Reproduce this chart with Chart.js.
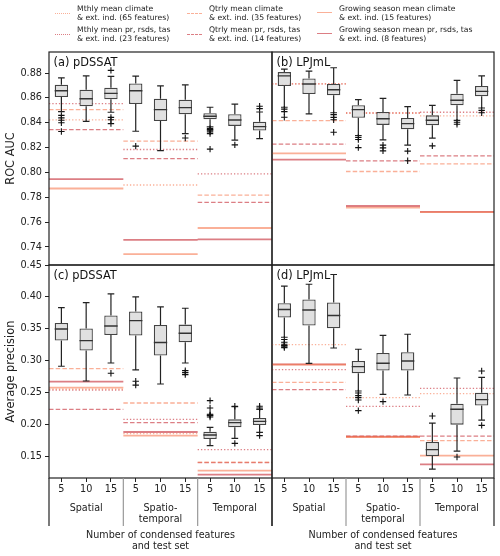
<!DOCTYPE html>
<html>
<head>
<meta charset="utf-8">
<script src="https://cdn.jsdelivr.net/npm/chart.js@4.4.1/dist/chart.umd.min.js"></script>
<style>
  body { margin: 0; background: #fff; }
  #wrap { position: relative; width: 500px; height: 556px; font-family: 'DejaVu Sans', sans-serif; overflow: hidden; }
  #wrap canvas { position: absolute; left: 0; top: 0; }
  .leg { position: absolute; font-size: 7.7px; line-height: 9px; color: #222; white-space: nowrap; }
  .smp { position: absolute; width: 15px; height: 0; }
</style>
</head>
<body>
<div id="wrap">
  <canvas id="cA" width="500" height="556"></canvas>
  <canvas id="cB" width="500" height="556"></canvas>
  <canvas id="cC" width="500" height="556"></canvas>
  <canvas id="cD" width="500" height="556"></canvas>
  <div id="legend"></div>
</div>
<script>
// x categories
const nFeatures = ['5', '10', '15'];
const testSets = ['Spatial', ['Spatio-', 'temporal'], 'Temporal'];
const refNames = [
  ['Mthly mean climate', '& ext. ind. (65 features)'],
  ['Mthly mean pr, rsds, tas', '& ext. ind. (23 features)'],
  ['Qtrly mean climate', '& ext. ind. (35 features)'],
  ['Qtrly mean pr, rsds, tas', '& ext. ind. (14 features)'],
  ['Growing season mean climate', '& ext. ind. (15 features)'],
  ['Growing season mean pr, rsds, tas', '& ext. ind. (8 features)']
];
const aucTicks = [0.74, 0.76, 0.78, 0.80, 0.82, 0.84, 0.86, 0.88];
const apTicks = [0.15, 0.20, 0.25, 0.30, 0.35, 0.40, 0.45];

// box stats: [lower whisker, Q1, median, Q3, upper whisker]
// reference lines per test set, in refNames order

// (a) pDSSAT, ROC AUC
const aucPdssatBoxes = [
  [0.849, 0.8607, 0.8658, 0.8706, 0.8762],
  [0.8412, 0.8533, 0.8594, 0.8666, 0.8778],
  [0.8485, 0.8589, 0.8637, 0.8682, 0.8773],
  [0.8332, 0.8551, 0.8658, 0.8717, 0.8776],
  [0.8176, 0.8415, 0.8506, 0.8594, 0.8698],
  [0.8313, 0.8469, 0.8522, 0.8586, 0.8706],
  [0.8367, 0.8428, 0.8453, 0.8477, 0.8525],
  [0.826, 0.8375, 0.8423, 0.8469, 0.8551],
  [0.8273, 0.8337, 0.8369, 0.8409, 0.8487]
];
const aucPdssatFliers = [
  [0.846, 0.844, 0.842, 0.840, 0.833], [], [0.8822, 0.8444, 0.8425, 0.8393],
  [0.8212], [], [0.8278],
  [0.8353, 0.8345, 0.834, 0.8327, 0.8313, 0.8188], [0.8222], [0.8533, 0.8514]
];
const aucPdssatRefs = [
  [0.8423, 0.8554, 0.8506, 0.8345, 0.7871, 0.7947],
  [0.7899, 0.8185, 0.8252, 0.8112, 0.7342, 0.7457],
  [0.7000, 0.7989, 0.7818, 0.7759, 0.7553, 0.7462]
];

// (b) LPJmL, ROC AUC
const aucLpjmlBoxes = [
  [0.8525, 0.8696, 0.8778, 0.8808, 0.8832],
  [0.8471, 0.8631, 0.8712, 0.8757, 0.8816],
  [0.8481, 0.8621, 0.8666, 0.8712, 0.8843],
  [0.8297, 0.8441, 0.8506, 0.8541, 0.8586],
  [0.8262, 0.8383, 0.8433, 0.8487, 0.8597],
  [0.822, 0.8348, 0.8393, 0.8439, 0.853],
  [0.8276, 0.838, 0.842, 0.846, 0.8541],
  [0.842, 0.8541, 0.8581, 0.8634, 0.8741],
  [0.8519, 0.8613, 0.8653, 0.8696, 0.8778]
];
const aucLpjmlFliers = [
  [0.851, 0.849, 0.8445], [], [0.8466, 0.8444, 0.8425, 0.8324],
  [0.8281, 0.8265, 0.82], [0.822, 0.8198, 0.8174], [0.8172, 0.8094],
  [0.8214], [0.8404, 0.8388], [0.85, 0.8481]
];
const aucLpjmlRefs = [
  [0.8714, 0.8714, 0.8417, 0.8228, 0.8153, 0.8104],
  [0.8479, 0.8479, 0.8008, 0.8094, 0.7717, 0.773],
  [0.8455, 0.8485, 0.807, 0.8134, 0.768, 0.7682]
];

// (c) pDSSAT, average precision
const apPdssatBoxes = [
  [0.2915, 0.3317, 0.3499, 0.3593, 0.3834],
  [0.2684, 0.316, 0.3317, 0.3505, 0.3912],
  [0.2966, 0.3405, 0.3546, 0.3709, 0.4047],
  [0.2857, 0.3395, 0.363, 0.3771, 0.40],
  [0.2637, 0.3082, 0.3286, 0.3561, 0.3843],
  [0.2966, 0.329, 0.3431, 0.3567, 0.3823],
  [0.1672, 0.1776, 0.1839, 0.1891, 0.1959],
  [0.1787, 0.1959, 0.2033, 0.2084, 0.2283],
  [0.1881, 0.1995, 0.2053, 0.2105, 0.224]
];
const apPdssatFliers = [
  [], [], [0.2805],
  [0.268, 0.262], [], [0.2847, 0.2816, 0.2784],
  [0.2377, 0.2261, 0.2163, 0.215, 0.2142, 0.212], [0.229, 0.1708], [0.2288, 0.2262, 0.1829]
];
const apPdssatRefs = [
  [0.2555, 0.2543, 0.2878, 0.2241, 0.2581, 0.2675],
  [0.186, 0.2084, 0.234, 0.2033, 0.1829, 0.1886],
  [0.10, 0.161, 0.1415, 0.1408, 0.128, 0.1218]
];

// (d) LPJmL, average precision
const apLpjmlBoxes = [
  [0.3369, 0.3677, 0.3803, 0.3901, 0.4168],
  [0.2961, 0.3552, 0.3796, 0.3959, 0.4199],
  [0.3201, 0.351, 0.3709, 0.3912, 0.4351],
  [0.2528, 0.2805, 0.291, 0.2998, 0.3181],
  [0.2476, 0.2847, 0.2961, 0.3123, 0.34],
  [0.2465, 0.2847, 0.2998, 0.3134, 0.3416],
  [0.1306, 0.1509, 0.161, 0.1729, 0.2026],
  [0.1588, 0.2001, 0.2241, 0.233, 0.2731],
  [0.2073, 0.2299, 0.2393, 0.2502, 0.2742]
];
const apLpjmlFliers = [
  [0.3333, 0.329, 0.3259, 0.324, 0.3228, 0.3207], [], [],
  [0.2496, 0.2455, 0.2424, 0.2387, 0.222], [0.2362], [],
  [0.2136], [0.1494], [0.2841, 0.199]
];
const apLpjmlRefs = [
  [0.3254, 0.2863, 0.2664, 0.255, 0.2941, 0.2945],
  [0.2424, 0.2288, 0.1815, 0.1823, 0.1807, 0.1815],
  [0.2487, 0.257, 0.175, 0.1823, 0.1516, 0.1379]
];

Chart.defaults.font.family = "'DejaVu Sans', sans-serif";
Chart.defaults.color = '#222';

// line look for the reference lines: climate = light, pr/rsds/tas = dark
const lightRed = 'rgba(246, 124, 84, 0.6)';
const darkRed = 'rgba(196, 40, 50, 0.6)';
function refStyle(k) {
  const kind = Math.floor(k / 2);
  return {
    color: k % 2 ? darkRed : lightRed,
    dash: kind === 0 ? [1.3, 2] : kind === 1 ? [4.5, 2.2] : [],
    css: kind === 0 ? 'dotted' : kind === 1 ? 'dashed' : 'solid',
    width: kind === 2 ? 1.8 : 1.3
  };
}

// frame, panel label, group labels and separators
const decor = {
  id: 'decor',
  afterDraw(chart, args, o) {
    const { ctx, chartArea: a } = chart;
    const xs = chart.scales.x;
    ctx.save();
    ctx.strokeStyle = '#222';
    ctx.lineWidth = 1.2;
    ctx.strokeRect(a.left, a.top, a.right - a.left, a.bottom - a.top);
    ctx.fillStyle = '#111';
    ctx.font = "11.4px 'DejaVu Sans'";
    ctx.textBaseline = 'middle';
    ctx.textAlign = 'left';
    ctx.fillText(o.label, a.left + 4.5, a.top + 11);
    if (o.bottom) {
      [-0.5, 2.5, 5.5, 8.5].forEach((v, k) => {
        const x = xs.getPixelForValue(v);
        ctx.strokeStyle = (k === 0 || k === 3) ? '#222' : '#999';
        ctx.beginPath();
        ctx.moveTo(x, a.bottom);
        ctx.lineTo(x, a.bottom + 48);
        ctx.stroke();
      });
      ctx.font = "9.6px 'DejaVu Sans'";
      ctx.textAlign = 'center';
      ctx.fillStyle = '#222';
      testSets.forEach((t, g) => {
        const x = xs.getPixelForValue(3 * g + 1);
        [].concat(t).forEach((line, j) => ctx.fillText(line, x, a.bottom + 30 + j * 11));
      });
    }
    ctx.restore();
  }
};

function makePanel(id, p) {
  const slots = [];
  testSets.forEach((t, g) => nFeatures.forEach((n, j) => slots.push(g * 3 + j)));
  const capW = 0.135, medW = 0.27;
  const whiskers = [], medians = [], fliers = [];
  p.boxes.forEach((b, i) => {
    whiskers.push(
      { x: i, y: b[0] }, { x: i, y: b[1] }, { x: i, y: null },
      { x: i, y: b[3] }, { x: i, y: b[4] }, { x: i, y: null },
      { x: i - capW, y: b[0] }, { x: i + capW, y: b[0] }, { x: i, y: null },
      { x: i - capW, y: b[4] }, { x: i + capW, y: b[4] }, { x: i, y: null }
    );
    medians.push({ x: i - medW, y: b[2] }, { x: i + medW, y: b[2] }, { x: i, y: null });
    p.fliers[i].forEach(v => fliers.push({ x: i, y: v }));
  });

  const refSets = refNames.map((name, k) => {
    const s = refStyle(k);
    const data = [];
    p.refs.forEach((r, g) => {
      data.push({ x: 3 * g - 0.5, y: r[k] }, { x: 3 * g + 2.5, y: r[k] }, { x: 3 * g + 2.5, y: null });
    });
    return {
      type: 'line', data, borderColor: s.color, borderWidth: s.width,
      borderDash: s.dash, pointRadius: 0, spanGaps: false, order: 10
    };
  });

  return new Chart(document.getElementById(id), {
    type: 'bar',
    data: {
      datasets: [
        ...refSets,
        { type: 'line', data: whiskers, borderColor: '#222', borderWidth: 1.2,
          pointRadius: 0, spanGaps: false, order: 5 },
        { type: 'bar', data: p.boxes.map((b, i) => ({ x: slots[i], y: [b[1], b[3]] })),
          backgroundColor: '#e0e0e0', borderColor: '#444', borderWidth: 1.3, borderSkipped: false,
          barPercentage: 0.54, categoryPercentage: 1, order: 4 },
        { type: 'line', data: medians, borderColor: '#333', borderWidth: 1.4,
          pointRadius: 0, spanGaps: false, order: 3 },
        { type: 'line', data: fliers, showLine: false, pointStyle: 'cross',
          pointRadius: 3.2, borderColor: '#111', borderWidth: 1.1, order: 2 }
      ]
    },
    options: {
      responsive: false,
      animation: false,
      devicePixelRatio: 1,
      events: [],
      layout: { padding: p.pad },
      plugins: {
        legend: { display: false },
        tooltip: { enabled: false },
        decor: { label: p.label, bottom: p.bottom }
      },
      scales: {
        x: {
          type: 'linear',
          display: p.bottom,
          min: -0.5,
          max: 8.5,
          offset: false,
          afterBuildTicks: s => { s.ticks = slots.map(v => ({ value: v })); },
          grid: { display: true, drawOnChartArea: false, offset: false, tickLength: 4, color: '#222' },
          border: { display: false },
          ticks: { callback: v => nFeatures[v % 3], font: { size: 9.7 }, padding: 2,
                   maxRotation: 0, autoSkip: false },
          title: { display: true, text: ['Number of condensed features', 'and test set'],
                   font: { size: 9.6, lineHeight: 1.15 }, padding: { top: 0, bottom: 3.5 } },
          afterFit: s => { if (p.bottom) s.height = 78; }
        },
        y: {
          min: p.min,
          max: p.max,
          display: p.left,
          afterBuildTicks: s => { s.ticks = p.ticks.map(v => ({ value: v })); },
          ticks: { callback: v => v.toFixed(2), font: { size: 9.7 }, padding: 3 },
          grid: { display: true, drawOnChartArea: false, tickLength: 4, color: '#222' },
          border: { display: false },
          title: { display: true, text: p.yTitle, font: { size: 11.4 } },
          afterFit: s => { if (p.left) s.width = 49; }
        }
      }
    },
    plugins: [decor]
  });
}

const topMin = 0.7255, topMax = 0.897, botMin = 0.1166, botMax = 0.45;

makePanel('cA', { boxes: aucPdssatBoxes, fliers: aucPdssatFliers, refs: aucPdssatRefs,
  label: '(a) pDSSAT', left: true, bottom: false, min: topMin, max: topMax, ticks: aucTicks,
  yTitle: 'ROC AUC', pad: { left: 0, top: 52, right: 228, bottom: 291 } });
makePanel('cB', { boxes: aucLpjmlBoxes, fliers: aucLpjmlFliers, refs: aucLpjmlRefs,
  label: '(b) LPJmL', left: false, bottom: false, min: topMin, max: topMax, ticks: aucTicks,
  yTitle: 'ROC AUC', pad: { left: 272, top: 52, right: 6, bottom: 291 } });
makePanel('cC', { boxes: apPdssatBoxes, fliers: apPdssatFliers, refs: apPdssatRefs,
  label: '(c) pDSSAT', left: true, bottom: true, min: botMin, max: botMax, ticks: apTicks,
  yTitle: 'Average precision', pad: { left: 0, top: 265, right: 228, bottom: 0 } });
makePanel('cD', { boxes: apLpjmlBoxes, fliers: apLpjmlFliers, refs: apLpjmlRefs,
  label: '(d) LPJmL', left: false, bottom: true, min: botMin, max: botMax, ticks: apTicks,
  yTitle: 'Average precision', pad: { left: 272, top: 265, right: 6, bottom: 0 } });

// legend above the panels
const legend = document.getElementById('legend');
const sampleX = [55, 187, 317], textX = [77, 209, 339], rowTop = [3.8, 24.8];
refNames.forEach((name, k) => {
  const col = Math.floor(k / 2), row = k % 2;
  const s = refStyle(k);
  const smp = document.createElement('div');
  smp.className = 'smp';
  smp.style.left = sampleX[col] + 'px';
  smp.style.top = (rowTop[row] + 9.5 - s.width / 2) + 'px';
  smp.style.borderTop = s.width + 'px ' + s.css + ' ' + s.color;
  legend.appendChild(smp);
  const txt = document.createElement('div');
  txt.className = 'leg';
  txt.style.left = textX[col] + 'px';
  txt.style.top = rowTop[row] + 'px';
  txt.innerHTML = name.join('<br>');
  legend.appendChild(txt);
});
</script>
</body>
</html>
